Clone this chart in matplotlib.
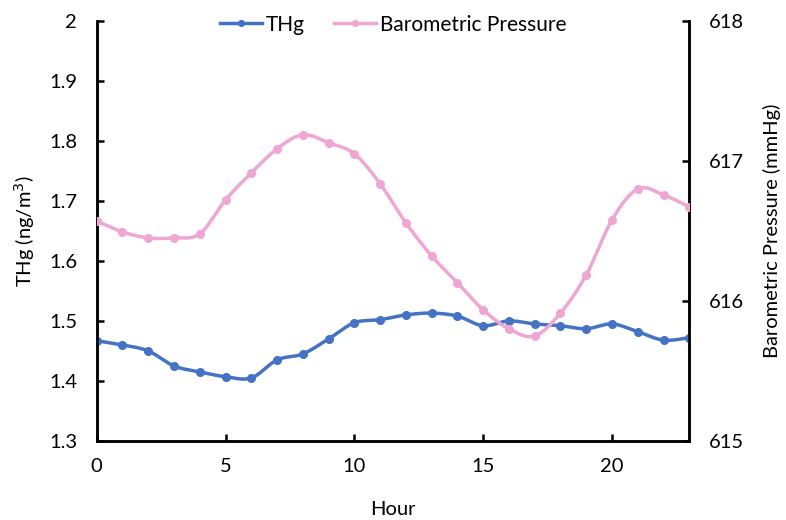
import numpy as np
import matplotlib
matplotlib.use("Agg")
import matplotlib.pyplot as plt

plt.rcParams['font.family'] = ['Lato', 'DejaVu Sans']

hours = list(range(24))
thg = [1.467, 1.460, 1.450, 1.425, 1.415, 1.407, 1.405, 1.435, 1.445, 1.470,
       1.497, 1.502, 1.510, 1.513, 1.508, 1.492, 1.500, 1.495, 1.492, 1.487,
       1.495, 1.482, 1.468, 1.472]
pressure = [616.571, 616.493, 616.45, 616.45, 616.479, 616.721, 616.914, 617.086,
            617.186, 617.129, 617.05, 616.836, 616.557, 616.321, 616.129, 615.936,
            615.80, 615.75, 615.914, 616.186, 616.579, 616.80, 616.757, 616.671]

left_ticks = [1.3, 1.4, 1.5, 1.6, 1.7, 1.8, 1.9, 2.0]
left_labels = ["1.3", "1.4", "1.5", "1.6", "1.7", "1.8", "1.9", "2"]
right_ticks = [615, 616, 617, 618]
x_ticks = [0, 5, 10, 15, 20]

BLUE = "#4472C4"
PINK = "#F0A6D3"


def smooth(x, y, n=20, tension=0.5):
    """Cardinal (Catmull-Rom style) spline through the points, like Excel smoothed lines."""
    x = np.asarray(x, float)
    y = np.asarray(y, float)
    px = np.concatenate([[x[0]], x, [x[-1]]])
    py = np.concatenate([[y[0]], y, [y[-1]]])
    xs, ys = [], []
    for i in range(1, len(px) - 2):
        p0, p1, p2, p3 = (np.array([px[j], py[j]]) for j in (i - 1, i, i + 1, i + 2))
        m1 = tension * (p2 - p0)
        m2 = tension * (p3 - p1)
        t = np.linspace(0, 1, n, endpoint=False)[:, None]
        h00 = 2 * t**3 - 3 * t**2 + 1
        h10 = t**3 - 2 * t**2 + t
        h01 = -2 * t**3 + 3 * t**2
        h11 = t**3 - t**2
        pts = h00 * p1 + h10 * m1 + h01 * p2 + h11 * m2
        xs.append(pts[:, 0])
        ys.append(pts[:, 1])
    xs.append([x[-1]])
    ys.append([y[-1]])
    return np.concatenate(xs), np.concatenate(ys)


fig = plt.figure(figsize=(7.86, 5.2), dpi=100)
ax = fig.add_axes([0.123, 0.152, 0.754, 0.808])
ax2 = ax.twinx()

sx, sy = smooth(hours, thg)
ax.plot(sx, sy, color=BLUE, lw=2.5, zorder=3)
ax.plot(hours, thg, 'o', color=BLUE, ms=5.5, zorder=4)
(l1,) = ax.plot([], [], '-o', color=BLUE, lw=2.5, ms=5.5, label="THg")

px_, py_ = smooth(hours, pressure)
ax2.plot(px_, py_, color=PINK, lw=2.5, zorder=3)
ax2.plot(hours, pressure, 'o', color=PINK, ms=5.5, zorder=4)
(l2,) = ax2.plot([], [], '-o', color=PINK, lw=2.5, ms=5.5, label="Barometric Pressure")

ax.set_xlim(0, 23)
ax.set_ylim(1.3, 2.0)
ax2.set_ylim(615, 618)
ax.set_xticks(x_ticks)
ax.set_yticks(left_ticks)
ax.set_yticklabels(left_labels)
ax2.set_yticks(right_ticks)

for a in (ax, ax2):
    a.spines['top'].set_visible(False)
    for s in a.spines.values():
        s.set_linewidth(1.8)
        s.set_color('black')
    a.tick_params(direction='in', length=5, width=1.8, labelsize=14.5, colors='black')
ax.tick_params(axis='y', pad=14)
ax.tick_params(axis='x', pad=12)
ax2.tick_params(axis='y', pad=14)

ax.set_xlabel("Hour", fontsize=14.5, labelpad=19)
ax.set_ylabel("THg (ng/m$^3$)", fontsize=14.5, labelpad=9)
ax2.set_ylabel("Barometric Pressure (mmHg)", fontsize=14.5, labelpad=14)

fig.legend(handles=[l1, l2], loc='upper center', bbox_to_anchor=(0.5, 1.0),
           ncol=2, frameon=False, fontsize=15, handlelength=2.0,
           handletextpad=0.2, columnspacing=1.4, markerscale=0.75,
           borderaxespad=0.3)

fig.savefig("out.png", dpi=100)
